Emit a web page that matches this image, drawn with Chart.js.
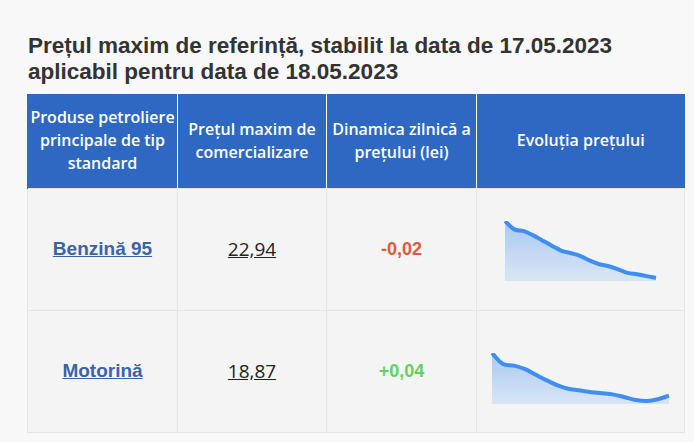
<!DOCTYPE html>
<html lang="ro">
<head>
<meta charset="UTF-8">
<title>Prețul maxim de referință</title>
<script src="https://cdn.jsdelivr.net/npm/chart.js"></script>
<style>
    html, body { margin: 0; padding: 0; }
    body { background: #f8f8f8; width: 694px; height: 442px; position: relative; overflow: hidden; font-family: "Liberation Sans", Arial, sans-serif; }
    h2 { position: absolute; left: 28px; top: 33px; margin: 0; font-size: 22.5px; line-height: 26px; font-weight: bold; color: #333; }
    table { position: absolute; left: 27px; top: 94px; width: 657px; border-collapse: collapse; table-layout: fixed; }
    th { background: #2f68c2; color: #fff; font-family: "Open Sans", sans-serif; font-weight: 600; font-size: 16px; line-height: 23px; height: 94px; padding: 0 1px; border-left: 1px solid #fff; text-align: center; box-sizing: border-box; }
    th:first-child { border-left: 1px solid #2f68c2; }
    td { background: #f4f4f4; border: 1px solid #e6e6e6; height: 122px; text-align: center; padding: 0; box-sizing: border-box; }
    .prod a { color: #3b63aa; font-weight: bold; font-size: 19px; text-decoration: underline; }
    .pret span { color: #222; font-family: "Open Sans", sans-serif; font-size: 19px; text-decoration: underline; }
    .dyn { font-weight: bold; font-size: 18px; }
    .neg { color: #e4573d; }
    .pos { color: #63d163; }
    .spark { position: absolute; }
</style>
</head>
<body>
<h2>Prețul maxim de referință, stabilit la data de 17.05.2023<br>aplicabil pentru data de 18.05.2023</h2>
<table>
    <colgroup><col style="width:150px"><col style="width:149px"><col style="width:150px"><col style="width:208px"></colgroup>
    <tr>
        <th>Produse petroliere principale de tip standard</th>
        <th>Prețul maxim de comercializare</th>
        <th>Dinamica zilnică a prețului (lei)</th>
        <th>Evoluția prețului</th>
    </tr>
    <tr>
        <td class="prod"><a href="#">Benzină 95</a></td>
        <td class="pret"><span>22,94</span></td>
        <td class="dyn neg">-0,02</td>
        <td></td>
    </tr>
    <tr>
        <td class="prod"><a href="#">Motorină</a></td>
        <td class="pret"><span>18,87</span></td>
        <td class="dyn pos">+0,04</td>
        <td></td>
    </tr>
</table>

<div class="spark" style="left:501px; top:217px; width:159px; height:68px;"><canvas id="chartBenzina"></canvas></div>
<div class="spark" style="left:488px; top:349px; width:185px; height:59px;"><canvas id="chartMotorina"></canvas></div>

<script>
// valorile (lei)
const zile = ['1','2','3','4','5','6','7','8','9','10','11','12','13','14','15','16','17'];
const benzina95 = [25.52, 25.14, 25.06, 24.87, 24.63, 24.39, 24.17, 24.06, 23.93, 23.72, 23.56, 23.47, 23.33, 23.17, 23.11, 23.02, 22.94];
const motorina = [21.00, 20.45, 20.37, 20.19, 19.90, 19.62, 19.37, 19.20, 19.12, 19.04, 18.99, 18.92, 18.79, 18.65, 18.60, 18.69, 18.87];
const limiteBenzina = [22.80, 25.52];
const limiteMotorina = [18.45, 21.00];

function sparkline(id, values, limits) {
    const ctx = document.getElementById(id);
    return new Chart(ctx, {
        type: 'line',
        data: {
            labels: zile,
            datasets: [{
                data: values,
                borderColor: '#3f8ef2',
                borderWidth: 4,
                pointRadius: 0,
                tension: 0.4,
                fill: 'start',
                backgroundColor: function(context) {
                    const area = context.chart.chartArea;
                    if (!area) return 'rgba(63,142,242,0.25)';
                    const g = context.chart.ctx.createLinearGradient(0, area.top, 0, area.bottom);
                    g.addColorStop(0, 'rgba(63,142,242,0.42)');
                    g.addColorStop(1, 'rgba(63,142,242,0.14)');
                    return g;
                }
            }]
        },
        options: {
            responsive: true,
            maintainAspectRatio: false,
            animation: false,
            layout: { padding: 4 },
            plugins: { legend: { display: false }, tooltip: { enabled: false } },
            scales: {
                x: { display: false },
                y: { display: false, min: limits[0], max: limits[1] }
            }
        }
    });
}

sparkline('chartBenzina', benzina95, limiteBenzina);
sparkline('chartMotorina', motorina, limiteMotorina);
</script>
</body>
</html>
